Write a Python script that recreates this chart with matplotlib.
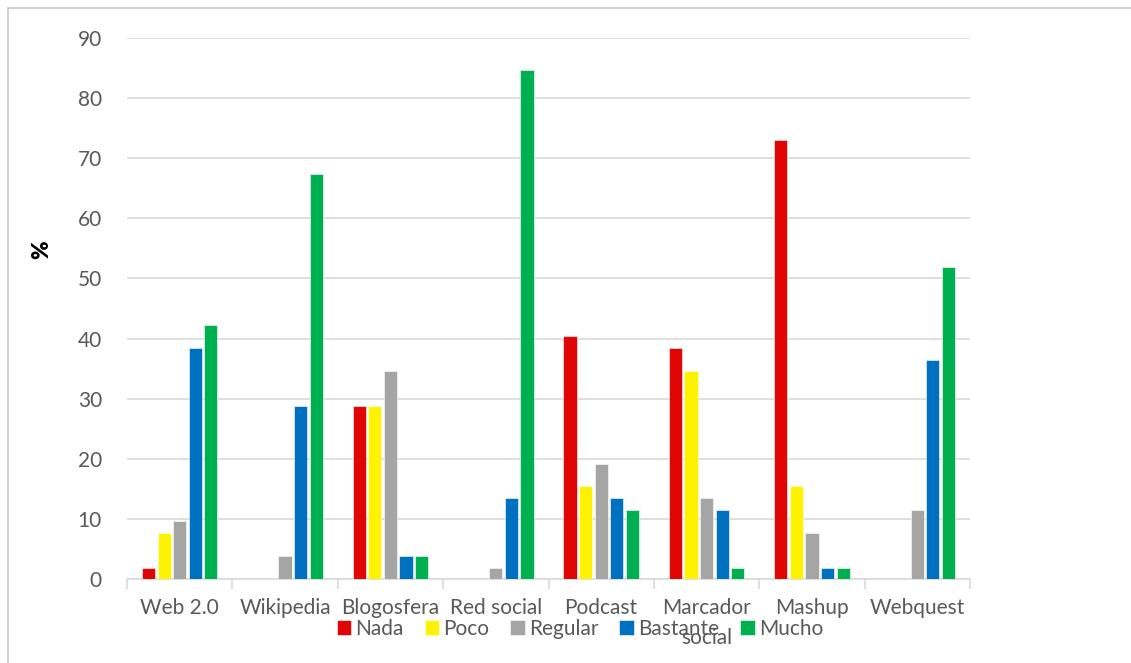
import matplotlib.pyplot as plt
import numpy as np
from matplotlib.lines import Line2D

# percentages of answers per tool (n = 52)
tools = ["Web 2.0", "Wikipedia", "Blogosfera", "Red social", "Podcast",
         "Marcador\nsocial", "Mashup", "Webquest"]
levels = ["Nada", "Poco", "Regular", "Bastante", "Mucho"]
nada = [1.9, 0, 28.8, 0, 40.4, 38.5, 73.1, 0]
poco = [7.7, 0, 28.8, 0, 15.4, 34.6, 15.4, 0]
regular = [9.6, 3.8, 34.6, 1.9, 19.2, 13.5, 7.7, 11.5]
bastante = [38.5, 28.8, 3.8, 13.5, 13.5, 11.5, 1.9, 36.5]
mucho = [42.3, 67.3, 3.8, 84.6, 11.5, 1.9, 1.9, 51.9]
colors = ["#E00606", "#FFF200", "#A5A5A5", "#0070C0", "#00B050"]

plt.rcParams["font.family"] = ["Lato", "DejaVu Sans"]
txt = "#595959"
grid = "#D9D9D9"

fig = plt.figure(figsize=(11.31, 6.63), dpi=100)
ax = fig.add_axes([127 / 1131, 1 - 579 / 663, 843 / 1131, 541 / 663])

x = np.arange(len(tools))
slot = 0.148
width = 0.125
series = [nada, poco, regular, bastante, mucho]
for i, (name, vals) in enumerate(zip(levels, series)):
    ax.bar(x + (i - 2) * slot, vals, width, color=colors[i], label=name,
           edgecolor="white", linewidth=0.4, zorder=3)

ax.set_xlim(-0.5, len(tools) - 0.5)
ax.set_ylim(0, 90)
ax.set_yticks(range(0, 91, 10))
ax.yaxis.grid(True, color=grid, linewidth=1.2, zorder=0)
ax.tick_params(axis="y", length=0, pad=18, labelsize=15, labelcolor=txt)

# category labels centred, tick marks on the boundaries
ax.set_xticks(x)
labels = ax.set_xticklabels(tools, fontsize=15, color=txt)
ax.tick_params(axis="x", which="major", length=0, pad=14)
# the wrapped label runs down into the legend row
labels[5].set_linespacing(1.6)
labels[5].set_va("top")
ax.set_xticks(np.arange(-0.5, len(tools)), minor=True)
ax.tick_params(axis="x", which="minor", length=7, color=grid, width=1.2)

for s in ["top", "right", "left"]:
    ax.spines[s].set_visible(False)
ax.spines["bottom"].set_color(grid)
ax.spines["bottom"].set_linewidth(1.2)

fig.text(42 / 1131, 1 - 250 / 663, "%", rotation=90, fontsize=16,
         fontweight="heavy", ha="center", va="center", color="black")

leg = ax.legend(loc="center", bbox_to_anchor=(580 / 1131, 1 - 629 / 663),
                bbox_transform=fig.transFigure, ncol=5, frameon=False,
                fontsize=15, handlelength=0.7, handleheight=0.7,
                handletextpad=0.2, columnspacing=1.0, borderaxespad=0)
for t in leg.get_texts():
    t.set_color(txt)

# outer chart border (left and top)
fig.add_artist(Line2D([7.5 / 1131, 7.5 / 1131], [0, 1 - 8 / 663],
                      transform=fig.transFigure, color="#C8C8C8", lw=1.2))
fig.add_artist(Line2D([7.5 / 1131, 1], [1 - 8 / 663, 1 - 8 / 663],
                      transform=fig.transFigure, color="#C8C8C8", lw=1.2))

fig.savefig("out.png", dpi=100)
